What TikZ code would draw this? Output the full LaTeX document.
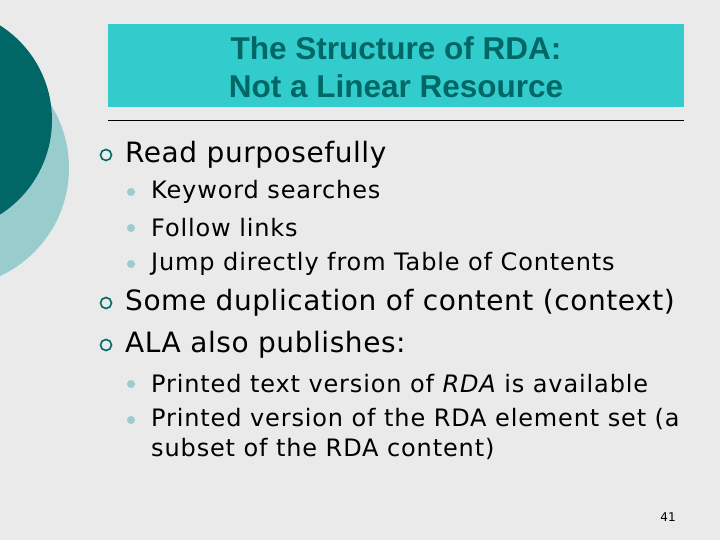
\documentclass[tikz,border=0pt]{standalone}
\usepackage{fontspec}
\setmainfont{DejaVu Sans}
\newfontfamily\titlefont{Liberation Sans}
\newfontfamily\onefont[LetterSpace=2]{DejaVu Sans}
\newfontfamily\twofont[LetterSpace=3.6]{DejaVu Sans}
\newfontfamily\twofontit[LetterSpace=3.6]{DejaVu Sans Oblique}
\definecolor{bg}{RGB}{234,234,234}
\definecolor{dteal}{RGB}{0,102,102}
\definecolor{lteal}{RGB}{153,204,204}
\definecolor{cteal}{RGB}{51,204,204}
\begin{document}
\begin{tikzpicture}[x=1pt,y=-1pt,
  lvlone/.style={anchor=west,inner sep=0pt,font=\onefont\fontsize{28}{32}\selectfont},
  lvltwo/.style={anchor=west,inner sep=0pt,font=\twofont\fontsize{24}{30}\selectfont},
  hollow/.style={circle,draw=dteal,line width=1.6pt,minimum size=11pt,inner sep=0pt},
  dotb/.style={circle,fill=lteal,minimum size=8pt,inner sep=0pt}]
\fill[bg] (0,0) rectangle (720,540);
\useasboundingbox (0,0) rectangle (720,540);
\begin{scope}
\clip (0,0) rectangle (720,540);
\fill[lteal] (-50,168) circle (119);
\fill[dteal] (-60,120) circle (112);
\end{scope}
\node[fill=cteal,minimum width=576pt,minimum height=83pt,anchor=north west,inner sep=0pt] (tb) at (108,24) {};
\node[align=center,text=dteal,font=\titlefont\bfseries\fontsize{31.5}{38}\selectfont] (title) at (396,67) {The Structure of RDA:\\Not a Linear Resource};
\coordinate (la) at (108,120); \coordinate (lb) at (684,120);
\draw[line width=0.8pt] (la) -- (lb);
\node[hollow] (b1) at (106,155) {}; \node[lvlone] (t1) at (125,155) {Read purposefully};
\node[dotb] (d1) at (131,192) {}; \node[lvltwo] (s1) at (151,192) {Keyword searches};
\node[dotb] (d2) at (131,228) {}; \node[lvltwo] (s2) at (151,228) {Follow links};
\node[dotb] (d3) at (131,264) {}; \node[lvltwo] (s3) at (151,264) {Jump directly from Table of Contents};
\node[hollow] (b2) at (106,303) {}; \node[lvlone] (t2) at (125,303) {Some duplication of content (context)};
\node[hollow] (b3) at (106,345) {}; \node[lvlone] (t3) at (125,345) {ALA also publishes:};
\node[dotb] (d4) at (131,384) {}; \node[lvltwo] (s4) at (151,384) {Printed text version of {\twofontit RDA} is available};
\node[dotb] (d5) at (131,420) {}; \node[lvltwo,anchor=north west,align=left,font=\twofont\fontsize{24}{30}\selectfont] (s5) at (151,408) {Printed version of the RDA element set (a\\subset of the RDA content)};
\node[font=\fontsize{12}{14}\selectfont] (pg) at (668,517) {41};
\end{tikzpicture}
\end{document}
